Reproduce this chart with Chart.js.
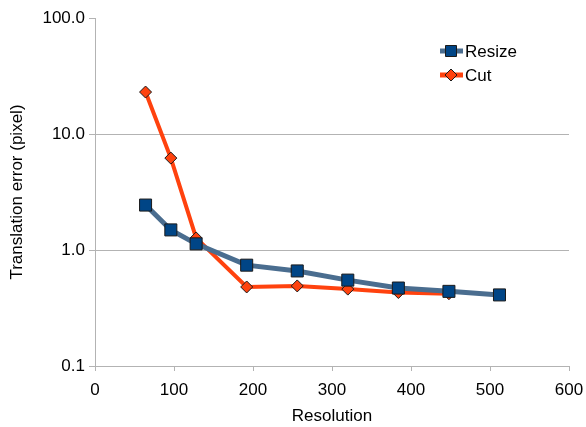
<!DOCTYPE html>
<html>
<head>
<meta charset="utf-8">
<script src="https://cdn.jsdelivr.net/npm/chart.js@4"></script>
<style>
  html, body { margin: 0; padding: 0; background: #fff; }
  #wrap { width: 586px; height: 427px; }
</style>
</head>
<body>
<div id="wrap"><canvas id="errChart" width="586" height="427"></canvas></div>
<script>
var resizeRes = [64, 96, 128, 192, 256, 320, 384, 448, 512];
var resizeErr = [2.44, 1.49, 1.13, 0.74, 0.66, 0.55, 0.47, 0.44, 0.41];
var cutRes = [64, 96, 128, 192, 256, 320, 384, 448];
var cutErr = [23.0, 6.2, 1.27, 0.48, 0.49, 0.46, 0.43, 0.42];
var yTicks = [0.1, 1, 10, 100];

function pairs(xs, ys) {
    return xs.map(function (x, i) { return { x: x, y: ys[i] }; });
}

var font = 'Liberation Sans, Arial, sans-serif';

// legend drawn inside the plot, like the original
var insideLegend = {
    id: 'insideLegend',
    afterDraw: function (chart) {
        var c = chart.ctx;
        var items = [
            { text: 'Resize', line: '#4a6d8f', fill: '#004586', shape: 'square', y: 51 },
            { text: 'Cut', line: '#ff420e', fill: '#ff420e', shape: 'diamond', y: 75 }
        ];
        c.save();
        items.forEach(function (it) {
            c.strokeStyle = it.line;
            c.lineWidth = 5;
            c.beginPath();
            c.moveTo(440, it.y);
            c.lineTo(463, it.y);
            c.stroke();
            c.fillStyle = it.fill;
            c.strokeStyle = '#1a1a1a';
            c.lineWidth = 1;
            c.beginPath();
            if (it.shape === 'square') {
                c.rect(445.5, it.y - 5.5, 11, 11);
            } else {
                c.moveTo(451, it.y - 6);
                c.lineTo(457, it.y);
                c.lineTo(451, it.y + 6);
                c.lineTo(445, it.y);
                c.closePath();
            }
            c.fill();
            c.stroke();
            c.fillStyle = '#000';
            c.font = '17px ' + font;
            c.textBaseline = 'middle';
            c.textAlign = 'left';
            c.fillText(it.text, 465, it.y + 1);
        });
        c.restore();
    }
};

var ctx = document.getElementById('errChart').getContext('2d');
var myChart = new Chart(ctx, {
    type: 'line',
    data: {
        datasets: [{
            label: 'Resize',
            data: pairs(resizeRes, resizeErr),
            borderColor: '#4a6d8f',
            borderWidth: 5,
            pointStyle: 'rect',
            pointRadius: 8.5,
            pointBackgroundColor: '#004586',
            pointBorderColor: '#1a1a1a',
            pointBorderWidth: 1,
            tension: 0
        }, {
            label: 'Cut',
            data: pairs(cutRes, cutErr),
            borderColor: '#ff420e',
            borderWidth: 4,
            pointStyle: 'rectRot',
            pointRadius: 6,
            pointBackgroundColor: '#ff420e',
            pointBorderColor: '#1a1a1a',
            pointBorderWidth: 1,
            tension: 0
        }]
    },
    options: {
        responsive: false,
        animation: false,
        layout: { padding: { top: 18, right: 17, left: 0, bottom: 0 } },
        plugins: {
            legend: { display: false },
            tooltip: { enabled: false }
        },
        scales: {
            x: {
                type: 'linear',
                min: 0,
                max: 600,
                ticks: {
                    stepSize: 100,
                    color: '#000',
                    padding: 9,
                    font: { family: font, size: 17 }
                },
                grid: {
                    drawOnChartArea: false,
                    drawTicks: true,
                    tickLength: 5,
                    color: '#b3b3b3'
                },
                border: { color: '#b3b3b3', width: 1 },
                title: {
                    display: true,
                    text: 'Resolution',
                    color: '#000',
                    padding: { top: 2, bottom: 0 },
                    font: { family: font, size: 17 }
                },
                afterFit: function (scale) {
                    scale.height = 61;
                    scale.paddingLeft = 0;
                    scale.paddingRight = 0;
                }
            },
            y: {
                type: 'logarithmic',
                min: 0.1,
                max: 100,
                afterBuildTicks: function (scale) {
                    scale.ticks = yTicks.map(function (v) { return { value: v, major: true }; });
                },
                ticks: {
                    color: '#000',
                    padding: 4,
                    font: { family: font, size: 17 },
                    callback: function (v) { return Number(v).toFixed(1); }
                },
                grid: {
                    color: function (c) {
                        return (c.tick && c.tick.value === 100) ? 'rgba(0,0,0,0)' : '#b3b3b3';
                    },
                    tickColor: '#b3b3b3',
                    tickLength: 6
                },
                border: { color: '#b3b3b3', width: 1 },
                title: {
                    display: true,
                    text: 'Translation error (pixel)',
                    color: '#000',
                    padding: { top: 7, bottom: 4 },
                    font: { family: font, size: 17 }
                },
                afterFit: function (scale) {
                    scale.width = 95;
                    scale.paddingTop = 0;
                    scale.paddingBottom = 0;
                }
            }
        }
    },
    plugins: [insideLegend]
});
</script>
</body>
</html>
